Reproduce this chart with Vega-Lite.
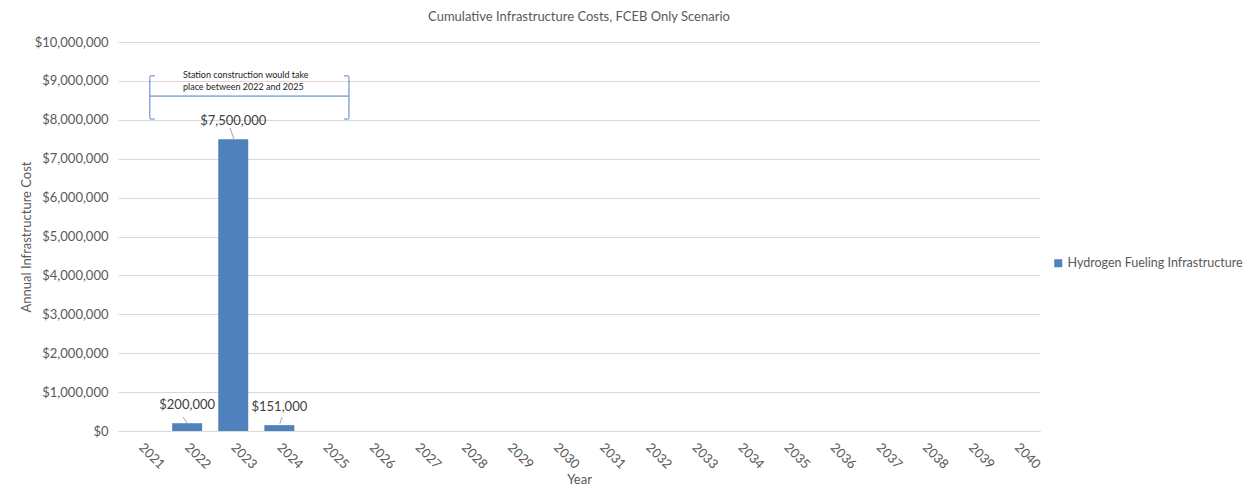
{
  "$schema": "https://vega.github.io/schema/vega-lite/v6.json",
  "width": 922,
  "height": 389,
  "autosize": {"type": "none"},
  "padding": {"left": 118, "top": 42, "right": 211, "bottom": 66},
  "background": "white",
  "title": {"text": "Cumulative Infrastructure Costs, FCEB Only Scenario", "anchor": "middle", "frame": "group", "fontSize": 13, "font": "Lato", "fontWeight": "normal", "color": "#595959", "offset": 12},
  "config": {
    "view": {"stroke": null},
    "font": "Lato",
    "axis": {"labelFont": "Lato", "titleFont": "Lato", "labelColor": "#595959", "titleColor": "#595959", "labelFontSize": 13, "titleFontSize": 13, "titleFontWeight": "normal"},
    "axisY": {"labelOverlap": false, "tickCount": 20, "format": "$,.0f", "ticks": false, "domain": false, "gridColor": "#d9d9d9", "labelPadding": 10, "titlePadding": 1},
    "legend": {"labelFont": "Lato", "labelColor": "#595959", "labelFontSize": 12.5}
  },
  "datasets": {
    "costs": [
      {"Year": "2021", "Cost": 0, "Series": "Hydrogen Fueling Infrastructure"},
      {"Year": "2022", "Cost": 200000, "Series": "Hydrogen Fueling Infrastructure"},
      {"Year": "2023", "Cost": 7500000, "Series": "Hydrogen Fueling Infrastructure"},
      {"Year": "2024", "Cost": 151000, "Series": "Hydrogen Fueling Infrastructure"},
      {"Year": "2025", "Cost": 0, "Series": "Hydrogen Fueling Infrastructure"},
      {"Year": "2026", "Cost": 0, "Series": "Hydrogen Fueling Infrastructure"},
      {"Year": "2027", "Cost": 0, "Series": "Hydrogen Fueling Infrastructure"},
      {"Year": "2028", "Cost": 0, "Series": "Hydrogen Fueling Infrastructure"},
      {"Year": "2029", "Cost": 0, "Series": "Hydrogen Fueling Infrastructure"},
      {"Year": "2030", "Cost": 0, "Series": "Hydrogen Fueling Infrastructure"},
      {"Year": "2031", "Cost": 0, "Series": "Hydrogen Fueling Infrastructure"},
      {"Year": "2032", "Cost": 0, "Series": "Hydrogen Fueling Infrastructure"},
      {"Year": "2033", "Cost": 0, "Series": "Hydrogen Fueling Infrastructure"},
      {"Year": "2034", "Cost": 0, "Series": "Hydrogen Fueling Infrastructure"},
      {"Year": "2035", "Cost": 0, "Series": "Hydrogen Fueling Infrastructure"},
      {"Year": "2036", "Cost": 0, "Series": "Hydrogen Fueling Infrastructure"},
      {"Year": "2037", "Cost": 0, "Series": "Hydrogen Fueling Infrastructure"},
      {"Year": "2038", "Cost": 0, "Series": "Hydrogen Fueling Infrastructure"},
      {"Year": "2039", "Cost": 0, "Series": "Hydrogen Fueling Infrastructure"},
      {"Year": "2040", "Cost": 0, "Series": "Hydrogen Fueling Infrastructure"}
    ],
    "brace": [
      {"part": "L", "ord": 1, "ux": 0.80, "uy": 9130000},
      {"part": "L", "ord": 2, "ux": 0.71, "uy": 9130000},
      {"part": "L", "ord": 3, "ux": 0.69, "uy": 9130000},
      {"part": "L", "ord": 4, "ux": 0.69, "uy": 9090000},
      {"part": "L", "ord": 5, "ux": 0.69, "uy": 8060000},
      {"part": "L", "ord": 6, "ux": 0.69, "uy": 8020000},
      {"part": "L", "ord": 7, "ux": 0.71, "uy": 8020000},
      {"part": "L", "ord": 8, "ux": 0.80, "uy": 8020000},
      {"part": "R", "ord": 1, "ux": 4.90, "uy": 9130000},
      {"part": "R", "ord": 2, "ux": 4.99, "uy": 9130000},
      {"part": "R", "ord": 3, "ux": 5.01, "uy": 9130000},
      {"part": "R", "ord": 4, "ux": 5.01, "uy": 9090000},
      {"part": "R", "ord": 5, "ux": 5.01, "uy": 8060000},
      {"part": "R", "ord": 6, "ux": 5.01, "uy": 8020000},
      {"part": "R", "ord": 7, "ux": 4.99, "uy": 8020000},
      {"part": "R", "ord": 8, "ux": 4.90, "uy": 8020000},
      {"part": "M", "ord": 1, "ux": 0.69, "uy": 8610000},
      {"part": "M", "ord": 2, "ux": 5.01, "uy": 8610000}
    ],
    "leaders": [
      {"part": "a", "ord": 1, "ux": 1.41, "uy": 360000},
      {"part": "a", "ord": 2, "ux": 1.50, "uy": 206000},
      {"part": "b", "ord": 1, "ux": 2.43, "uy": 7790000},
      {"part": "b", "ord": 2, "ux": 2.52, "uy": 7480000},
      {"part": "c", "ord": 1, "ux": 3.56, "uy": 360000},
      {"part": "c", "ord": 2, "ux": 3.51, "uy": 180000}
    ],
    "notes": [
      {"ux": 1.41, "uy": 9150000, "label": "Station construction would take\nplace between 2022 and 2025"}
    ]
  },
  "layer": [
    {
      "data": {"name": "costs"},
      "layer": [
        {
          "mark": {"type": "bar"},
          "encoding": {
            "x": {"field": "Year", "type": "nominal", "sort": null,
                  "scale": {"paddingInner": 0.35, "paddingOuter": 0.175},
                  "axis": {"title": "Year", "labelAngle": 45, "labelAlign": "left", "labelBaseline": "middle", "labelPadding": 14, "ticks": false, "domain": true, "domainColor": "#d9d9d9", "grid": false, "titlePadding": 2}},
            "y": {"field": "Cost", "type": "quantitative",
                  "scale": {"domain": [0, 10000000], "nice": false},
                  "axis": {"title": "Annual Infrastructure Cost", "tickCount": 20, "values": [0, 1000000, 2000000, 3000000, 4000000, 5000000, 6000000, 7000000, 8000000, 9000000, 10000000]}},
            "color": {"field": "Series", "type": "nominal", "scale": {"range": ["#4F81BD"]},
                      "legend": {"title": null, "orient": "none", "legendX": 934, "legendY": 215, "symbolType": "square", "symbolSize": 64, "symbolStrokeWidth": 0, "labelOffset": 3, "labelLimit": 400}}
          }
        },
        {
          "transform": [{"filter": "datum.Cost > 0"}],
          "mark": {"type": "text", "dy": -18, "fontSize": 13, "color": "#404040", "font": "Lato", "baseline": "middle"},
          "encoding": {
            "x": {"field": "Year", "type": "nominal", "sort": null},
            "y": {"field": "Cost", "type": "quantitative"},
            "text": {"field": "Cost", "type": "quantitative", "format": "$,.0f"}
          }
        }
      ]
    },
    {
      "layer": [
        {
          "data": {"name": "brace"},
          "mark": {"type": "line", "interpolate": "basis", "color": "#4A7EBB", "strokeWidth": 1},
          "encoding": {
            "x": {"field": "ux", "type": "quantitative", "scale": {"domain": [0, 20], "nice": false, "zero": false}, "axis": null},
            "y": {"field": "uy", "type": "quantitative"},
            "detail": {"field": "part"},
            "order": {"field": "ord"}
          }
        },
        {
          "data": {"name": "leaders"},
          "mark": {"type": "line", "color": "#A6A6A6", "strokeWidth": 1},
          "encoding": {
            "x": {"field": "ux", "type": "quantitative"},
            "y": {"field": "uy", "type": "quantitative"},
            "detail": {"field": "part"},
            "order": {"field": "ord"}
          }
        },
        {
          "data": {"name": "notes"},
          "mark": {"type": "text", "align": "left", "baseline": "middle", "fontSize": 9, "lineHeight": 12, "lineBreak": "\n", "color": "#1a1a1a", "font": "Lato"},
          "encoding": {
            "x": {"field": "ux", "type": "quantitative"},
            "y": {"field": "uy", "type": "quantitative"},
            "text": {"field": "label"}
          }
        }
      ]
    }
  ],
  "resolve": {"scale": {"x": "independent"}, "axis": {"x": "independent"}}
}
